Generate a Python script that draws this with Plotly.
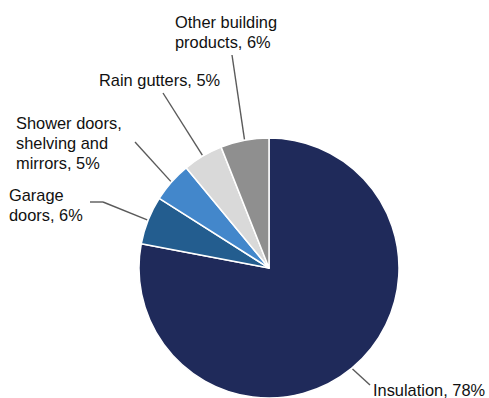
import math
import plotly.graph_objects as go

# ---- data ----
categories = ["Insulation", "Garage doors", "Shower doors, shelving and mirrors",
              "Rain gutters", "Other building products"]
values = [78, 6, 5, 5, 6]
label_lines = [
    ["Insulation, 78%"],
    ["Garage", "doors, 6%"],
    ["Shower doors,", "shelving and", "mirrors, 5%"],
    ["Rain gutters, 5%"],
    ["Other building", "products, 6%"],
]
colors = ["#1F2A5A", "#235D8F", "#4387CB", "#D9D9D9", "#8F8F8F"]

# ---- layout (pixels) ----
W, H = 489, 398
CX, CY, R = 269, 268, 130
# label text block: left x, first-line center y
label_pos = [(372, 390), (8, 195), (15, 123), (98, 80), (174, 22)]
# leader-line outer points (pixel), may contain an elbow
leader_out = [
    [(370, 385)],
    [(103, 202), (90, 202)],
    [(135, 142)],
    [(163, 93)],
    [(232, 55)],
]
LINE_SP = 20


def px(x):
    return x / W


def py(y):
    return 1 - y / H


fig = go.Figure(go.Pie(
    labels=categories, values=values, sort=False, direction="clockwise",
    rotation=0, textinfo="none", hoverinfo="label+percent",
    marker=dict(colors=colors, line=dict(color="white", width=1.5)),
    domain=dict(x=[px(CX - R), px(CX + R)], y=[py(CY + R), py(CY - R)]),
    showlegend=False,
))

total = sum(values)
cum = 0
shapes = []
annotations = []
for i, v in enumerate(values):
    mid = (cum + v / 2) / total * 2 * math.pi
    cum += v
    sx = CX + (R + 1) * math.sin(mid)
    sy = CY - (R + 1) * math.cos(mid)
    pts = [(sx, sy)] + leader_out[i]
    for (x0, y0), (x1, y1) in zip(pts[:-1], pts[1:]):
        shapes.append(dict(type="line", xref="paper", yref="paper",
                           x0=px(x0), y0=py(y0), x1=px(x1), y1=py(y1),
                           line=dict(color="#5A5A5A", width=1.4)))
    lx, ly = label_pos[i]
    for j, t in enumerate(label_lines[i]):
        annotations.append(dict(
            text=t, xref="paper", yref="paper", x=px(lx - 1), y=py(ly + j * LINE_SP),
            xanchor="left", yanchor="middle", showarrow=False, align="left",
            font=dict(family="Liberation Sans, Arial, sans-serif", size=16.4, color="#111111"),
        ))

fig.update_layout(
    width=W, height=H, margin=dict(l=0, r=0, t=0, b=0),
    paper_bgcolor="white", plot_bgcolor="white",
    shapes=shapes, annotations=annotations,
)

fig.write_html("out.html")
